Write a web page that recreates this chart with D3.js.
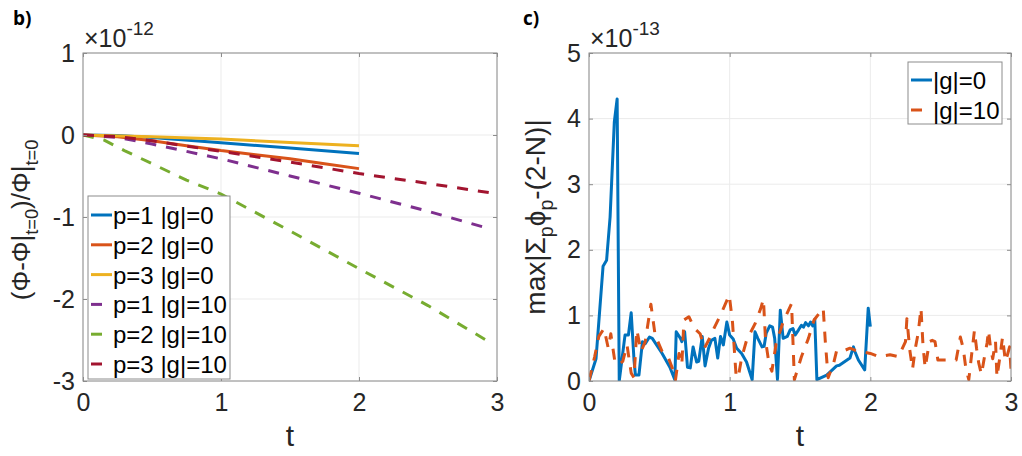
<!DOCTYPE html>
<html>
<head>
<meta charset="utf-8">
<script src="https://cdn.jsdelivr.net/npm/d3@7"></script>
<style>
body { margin: 0; background: #fff; }
svg { display: block; font-family: "Liberation Sans", Arial, sans-serif; }
</style>
</head>
<body>
<div id="chart"></div>
<script>
// panel b) relative change of Phi, values in units of 1e-12, pairs of [t, value]
let p1g0 = [[0,0],[0.25,-0.005],[0.5,-0.03],[1,-0.095],[1.5,-0.16],[2,-0.225]];
let p2g0 = [[0,0],[0.25,-0.02],[0.5,-0.07],[0.75,-0.13],[1,-0.19],[1.25,-0.24],[1.5,-0.29],[1.75,-0.35],[2,-0.41]];
let p3g0 = [[0,0],[0.5,-0.02],[1,-0.05],[1.5,-0.09],[2,-0.13]];
let p1g10 = [[0,0],[0.25,-0.03],[0.5,-0.11],[1,-0.29],[1.5,-0.5],[2,-0.71],[2.5,-0.93],[2.94,-1.14]];
let p2g10 = [[0,0],[0.15,-0.06],[0.3,-0.19],[0.5,-0.35],[0.75,-0.55],[1,-0.72],[1.5,-1.17],[2,-1.63],[2.5,-2.08],[2.95,-2.53]];
let p3g10 = [[0,0],[0.25,-0.02],[0.5,-0.07],[1,-0.2],[1.5,-0.33],[2,-0.47],[2.5,-0.59],[2.97,-0.71]];

// panel c) max deviation, values in units of 1e-13
let devG0 = [[0,0],[0.05,0.34],[0.1,1.75],[0.125,1.84],[0.15,2.5],[0.18,3.95],[0.2,4.3],[0.215,0],
  [0.256,0.7],[0.28,0.7],[0.3,1.04],[0.32,0.32],[0.33,0.09],[0.355,0.09],[0.38,0.6],[0.4,0.57],
  [0.43,0.67],[0.45,0.65],[0.52,0.42],[0.575,0.21],[0.61,0.02],[0.62,0.75],[0.65,0.65],[0.66,0.6],
  [0.68,0.75],[0.7,0.21],[0.72,0.2],[0.74,0.52],[0.765,0.29],[0.78,0.3],[0.805,0.68],[0.825,0.23],
  [0.85,0.5],[0.87,0.62],[0.895,0.65],[0.915,0.35],[0.935,0.68],[0.955,0.55],[0.98,0.9],[1.0,0.7],
  [1.025,0.64],[1.05,0.5],[1.085,0.42],[1.12,0.29],[1.16,0.02],[1.18,0.75],[1.2,0.65],[1.23,0.52],
  [1.245,0.53],[1.26,0.73],[1.285,0.84],[1.305,0.82],[1.32,0.65],[1.34,0.02],[1.36,1.08],[1.38,0.65],
  [1.41,0.68],[1.43,0.78],[1.45,0.8],[1.465,0.7],[1.49,0.78],[1.51,0.85],[1.525,0.82],[1.54,0.89],
  [1.56,0.84],[1.575,0.9],[1.59,0.84],[1.605,0.94],[1.62,0.02],[1.69,0.09],[1.76,0.23],[1.78,0.24],
  [1.855,0.35],[1.88,0.52],[1.89,0.45],[1.915,0.32],[1.96,0.17],[1.985,1.11],[2.0,0.83]];
let devG10 = [[0,0],[0.04,0.37],[0.07,0.68],[0.107,0.8],[0.137,0.5],[0.155,0.72],[0.185,0.28],[0.21,0.25],
  [0.24,0.3],[0.27,0.55],[0.3,0.12],[0.32,0.05],[0.34,0.78],[0.37,0.45],[0.4,0.6],[0.44,1.17],
  [0.47,0.7],[0.52,0.45],[0.56,0.38],[0.6,0.15],[0.615,0.02],[0.64,0.42],[0.66,0.25],[0.675,0.93],
  [0.71,0.98],[0.75,0.8],[0.79,0.72],[0.82,0.5],[0.85,0.62],[0.87,0.72],[0.94,1.03],[0.997,1.31],
  [1.02,0.9],[1.045,0.1],[1.06,0.05],[1.085,0.35],[1.12,0.62],[1.18,0.87],[1.22,1.1],[1.24,1.25],
  [1.255,0.62],[1.28,0.26],[1.3,0.15],[1.33,0.57],[1.38,0.9],[1.44,1.18],[1.46,0.02],[1.51,0.37],
  [1.56,0.65],[1.6,0.93],[1.665,1.11],[1.68,0.6],[1.7,0.05],[1.74,0.28],[1.76,0.46],[1.8,0.45],
  [1.855,0.5],[1.89,0.47],[1.93,0.45],[2.0,0.42],[2.06,0.37],[2.14,0.4],[2.2,0.37],[2.25,0.6],
  [2.26,0.95],[2.28,0.48],[2.3,0.18],[2.32,0.5],[2.34,0.73],[2.36,1.11],[2.375,0.52],[2.39,0.2],
  [2.42,0.6],[2.44,0.62],[2.46,0.6],[2.48,0.32],[2.55,0.32],[2.61,0.32],[2.64,0.67],[2.66,0.5],
  [2.68,0.18],[2.7,0.02],[2.72,0.4],[2.74,0.77],[2.755,0.5],[2.77,0.28],[2.79,0.1],[2.81,0.35],
  [2.83,0.58],[2.84,0.77],[2.855,0.5],[2.87,0.34],[2.89,0.6],[2.9,0.06],[2.92,0.35],[2.94,0.67],
  [2.96,0.3],[2.975,0.4],[2.99,0.52],[3.0,0.17]];

let leftNames = ['p=1 |g|=0','p=2 |g|=0','p=3 |g|=0','p=1 |g|=10','p=2 |g|=10','p=3 |g|=10'];
let rightNames = ['|g|=0','|g|=10'];
let xTicks = [0, 1, 2, 3];
let leftYTicks = [-3, -2, -1, 0, 1];
let rightYTicks = [0, 1, 2, 3, 4, 5];

const w = 1022, h = 456;
const colors = ['#0072BD','#D95319','#EDB120','#7E2F8E','#77AC30','#A2142F'];
const dashPattern = '11,10';

function drawPanel(svg, o) {
    let x = d3.scaleLinear().domain([0, 3]).range([o.left, o.right]);
    let y = d3.scaleLinear().domain(o.yDomain).range([o.bottom, o.top]);
    let g = svg.append('g');

    // grid
    g.selectAll('.gx').data(xTicks).enter().append('line')
        .attr('x1', d => x(d)).attr('x2', d => x(d))
        .attr('y1', o.top).attr('y2', o.bottom)
        .attr('stroke', '#ebebeb').attr('stroke-width', 1);
    g.selectAll('.gy').data(o.yTicks).enter().append('line')
        .attr('x1', o.left).attr('x2', o.right)
        .attr('y1', d => y(d)).attr('y2', d => y(d))
        .attr('stroke', '#ebebeb').attr('stroke-width', 1);

    let clipId = 'clip' + o.id;
    svg.append('clipPath').attr('id', clipId).append('rect')
        .attr('x', o.left).attr('y', o.top)
        .attr('width', o.right - o.left).attr('height', o.bottom - o.top);

    let line = d3.line().x(d => x(d[0])).y(d => y(d[1]));
    let lines = g.append('g').attr('clip-path', `url(#${clipId})`);
    o.series.forEach(s => {
        lines.append('path')
            .attr('d', line(s.data))
            .attr('fill', 'none')
            .attr('stroke', s.color)
            .attr('stroke-width', 3)
            .attr('stroke-linejoin', 'round')
            .attr('stroke-dasharray', s.dash ? dashPattern : null);
    });

    // axes with inward ticks
    let fmt = d => String(d);
    let xAxis = d3.axisBottom(x).tickValues(xTicks).tickFormat(fmt).tickSizeInner(-4).tickSizeOuter(0).tickPadding(12);
    let xg = g.append('g').attr('transform', `translate(0,${o.bottom})`).call(xAxis);
    let yAxis = d3.axisLeft(y).tickValues(o.yTicks).tickFormat(fmt).tickSizeInner(-4).tickSizeOuter(0).tickPadding(8);
    let yg = g.append('g').attr('transform', `translate(${o.left},0)`).call(yAxis);
    g.append('g').attr('transform', `translate(0,${o.top})`)
        .call(d3.axisTop(x).tickValues(xTicks).tickSizeInner(-4).tickSizeOuter(0).tickFormat(''));
    g.append('g').attr('transform', `translate(${o.right},0)`)
        .call(d3.axisRight(y).tickValues(o.yTicks).tickSizeInner(-4).tickSizeOuter(0).tickFormat(''));
    g.selectAll('.domain').remove();
    g.selectAll('.tick line').attr('stroke', '#8c8c8c');
    [xg, yg].forEach(a => a.selectAll('text')
        .attr('font-size', 25).attr('fill', '#262626')
        .attr('font-family', '"Liberation Sans", Arial, sans-serif'));
    xg.selectAll('text').attr('dy', '0.71em');

    g.append('rect')
        .attr('x', o.left).attr('y', o.top)
        .attr('width', o.right - o.left).attr('height', o.bottom - o.top)
        .attr('fill', 'none').attr('stroke', '#8c8c8c').attr('stroke-width', 1);

    // exponent
    let ex = g.append('text').attr('x', o.left + 1).attr('y', 47).attr('fill', '#262626').attr('font-size', 25);
    ex.append('tspan').text('×10');
    ex.append('tspan').attr('font-size', 19).attr('dy', -12).text(o.exp);

    // x label
    g.append('text').attr('x', (o.left + o.right) / 2).attr('y', 446)
        .attr('text-anchor', 'middle').attr('font-size', 30).attr('fill', '#262626').text('t');

    // y label
    let yl = g.append('text')
        .attr('transform', `translate(${o.ylabelX},${(o.top + o.bottom) / 2 + o.ylabelShift}) rotate(-90)`)
        .attr('text-anchor', 'middle').attr('font-size', o.ylabelSize).attr('fill', '#262626');
    o.ylabel.forEach(part => {
        let t = yl.append('tspan').text(part.t);
        if (part.sub === 1) t.attr('font-size', o.ylabelSize * 0.7).attr('dy', 8);
        if (part.sub === -1) t.attr('dy', -8);
    });

    // panel letter
    svg.append('text').attr('x', o.letterX).attr('y', 25)
        .attr('font-family', '"Open Sans", sans-serif').attr('font-weight', 'bold')
        .attr('font-size', 19).attr('fill', '#000').text(o.letter);

    // legend
    let lg = g.append('g');
    lg.append('rect').attr('x', o.legend.x).attr('y', o.legend.y)
        .attr('width', o.legend.w).attr('height', o.legend.h)
        .attr('fill', '#fff').attr('stroke', '#8c8c8c').attr('stroke-width', 1);
    o.series.forEach((s, i) => {
        let cy = o.legend.y + o.legend.first + i * o.legend.step;
        lg.append('line')
            .attr('x1', o.legend.x + 3).attr('x2', o.legend.x + 24)
            .attr('y1', cy).attr('y2', cy)
            .attr('stroke', s.color).attr('stroke-width', 3)
            .attr('stroke-dasharray', s.dash ? dashPattern : null);
        lg.append('text').attr('x', o.legend.x + 25).attr('y', cy + 9)
            .attr('font-size', 24).attr('fill', '#000').text(s.name);
    });
}

function makeChart() {
    let svg = d3.select('#chart').append('svg').attr('width', w).attr('height', h);

    let leftData = [p1g0, p2g0, p3g0, p1g10, p2g10, p3g10];
    drawPanel(svg, {
        id: 'b', left: 83, right: 497, top: 53, bottom: 381,
        yDomain: [-3, 1], yTicks: leftYTicks, exp: '-12',
        series: leftData.map((d, i) => ({data: d, color: colors[i], dash: i >= 3, name: leftNames[i]})),
        ylabelX: 30, ylabelShift: 3, ylabelSize: 26,
        ylabel: [{t: '(Φ-Φ|'}, {t: 't=0', sub: 1}, {t: ')/Φ|', sub: -1}, {t: 't=0', sub: 1}],
        letter: 'b)', letterX: 13,
        legend: {x: 88, y: 196, w: 142, h: 183, first: 19, step: 29.8}
    });

    let rightData = [devG0, devG10];
    drawPanel(svg, {
        id: 'c', left: 589, right: 1011, top: 53, bottom: 381,
        yDomain: [0, 5], yTicks: rightYTicks, exp: '-13',
        series: rightData.map((d, i) => ({data: d, color: colors[i], dash: i === 1, name: rightNames[i]})),
        ylabelX: 545, ylabelShift: 0, ylabelSize: 28,
        ylabel: [{t: 'max|Σ'}, {t: 'p', sub: 1}, {t: 'ϕ', sub: -1}, {t: 'p', sub: 1}, {t: '-(2-N)|', sub: -1}],
        letter: 'c)', letterX: 523,
        legend: {x: 908, y: 62, w: 94, h: 62, first: 18, step: 30}
    });
}

window.onload = () => {
    makeChart();
}
</script>
</body>
</html>
